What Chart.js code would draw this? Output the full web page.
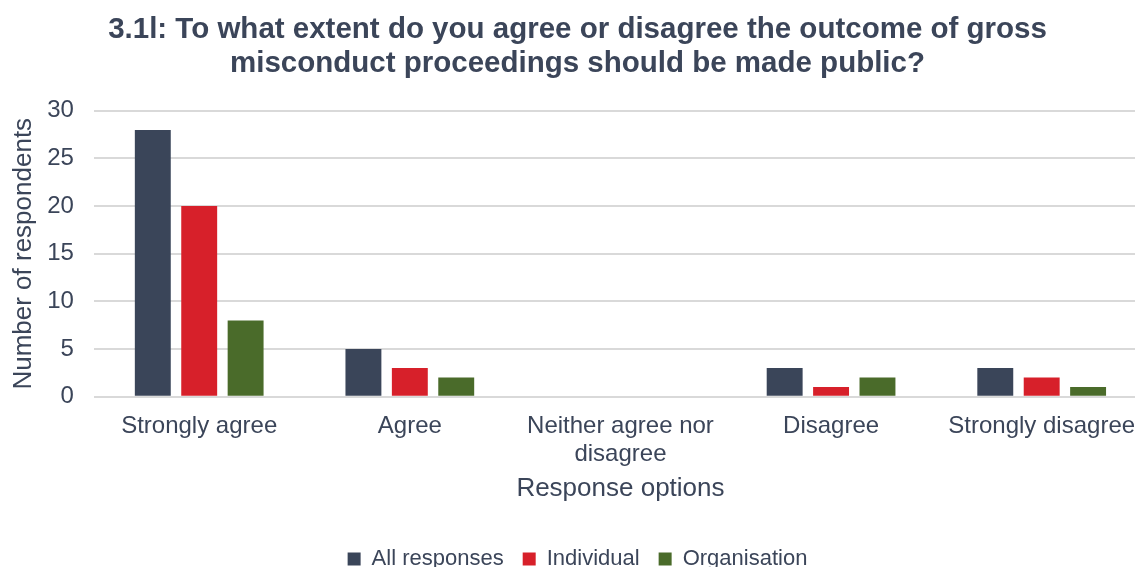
<!DOCTYPE html>
<html>
<head>
<meta charset="utf-8">
<script src="https://cdn.jsdelivr.net/npm/chart.js@4/dist/chart.umd.min.js"></script>
<style>
  html, body { margin: 0; padding: 0; background: #fff; overflow: hidden; }
  #wrap { width: 1135px; height: 567px; overflow: hidden; }
</style>
</head>
<body>
<!-- o canvas é um pouco maior que a janela: a área do gráfico passa da borda direita, como no original -->
<div id="wrap"><canvas id="grafico" width="1147" height="580"></canvas></div>
<script>
// Dados do gráfico
const categorias = ['Strongly agree', 'Agree', ['Neither agree nor', 'disagree'], 'Disagree', 'Strongly disagree'];
const todasRespostas = [28, 5, 0, 3, 3];
const individual = [20, 3, 0, 1, 2];
const organizacao = [8, 2, 0, 2, 1];
const ticksY = [0, 5, 10, 15, 20, 25, 30];

const corTexto = '#3B4559';
const fonte = "'Liberation Sans', Arial, sans-serif";

const commonDataset = {
    barPercentage: 0.774,
    categoryPercentage: 0.661,
    borderWidth: 0
};

new Chart(document.getElementById('grafico'), {
    type: 'bar',
    data: {
        labels: categorias,
        datasets: [
            { ...commonDataset, label: 'All responses', data: todasRespostas, backgroundColor: '#3A4559' },
            { ...commonDataset, label: 'Individual', data: individual, backgroundColor: '#D7202A' },
            { ...commonDataset, label: 'Organisation', data: organizacao, backgroundColor: '#4A6B2A' }
        ]
    },
    options: {
        responsive: false,
        animation: false,
        layout: { padding: { top: 13, left: 8, right: 0, bottom: 0 } },
        plugins: {
            title: {
                display: true,
                text: ['3.1l: To what extent do you agree or disagree the outcome of gross', 'misconduct proceedings should be made public?'],
                color: corTexto,
                font: { family: fonte, size: 29.5, weight: 'bold', lineHeight: 1.15 },
                padding: { top: 0, bottom: 30 }
            },
            legend: {
                position: 'bottom',
                labels: {
                    color: corTexto,
                    font: { family: fonte, size: 22 },
                    boxWidth: 13,
                    boxHeight: 13,
                    padding: 19
                }
            },
            tooltip: { enabled: false }
        },
        scales: {
            x: {
                grid: { display: false },
                border: { display: false },
                afterFit: axis => { axis.paddingLeft = 0; axis.paddingRight = 0; },
                ticks: {
                    color: corTexto,
                    font: { family: fonte, size: 24, lineHeight: 1.17 },
                    maxRotation: 0,
                    autoSkip: false,
                    padding: 8
                },
                title: {
                    display: true,
                    text: 'Response options',
                    color: corTexto,
                    font: { family: fonte, size: 26 },
                    padding: { top: -4, bottom: 25 }
                }
            },
            y: {
                min: 0,
                max: 30,
                afterBuildTicks: axis => { axis.ticks = ticksY.map(v => ({ value: v })); },
                afterFit: axis => { axis.width -= 12; },
                grid: { color: '#D9D9D9', lineWidth: 2, drawTicks: false },
                border: { display: false },
                ticks: {
                    color: corTexto,
                    font: { family: fonte, size: 24 },
                    padding: 20
                },
                title: {
                    display: true,
                    text: 'Number of respondents',
                    color: corTexto,
                    font: { family: fonte, size: 26 },
                    padding: { top: 0, bottom: 0 }
                }
            }
        }
    }
});
</script>
</body>
</html>
